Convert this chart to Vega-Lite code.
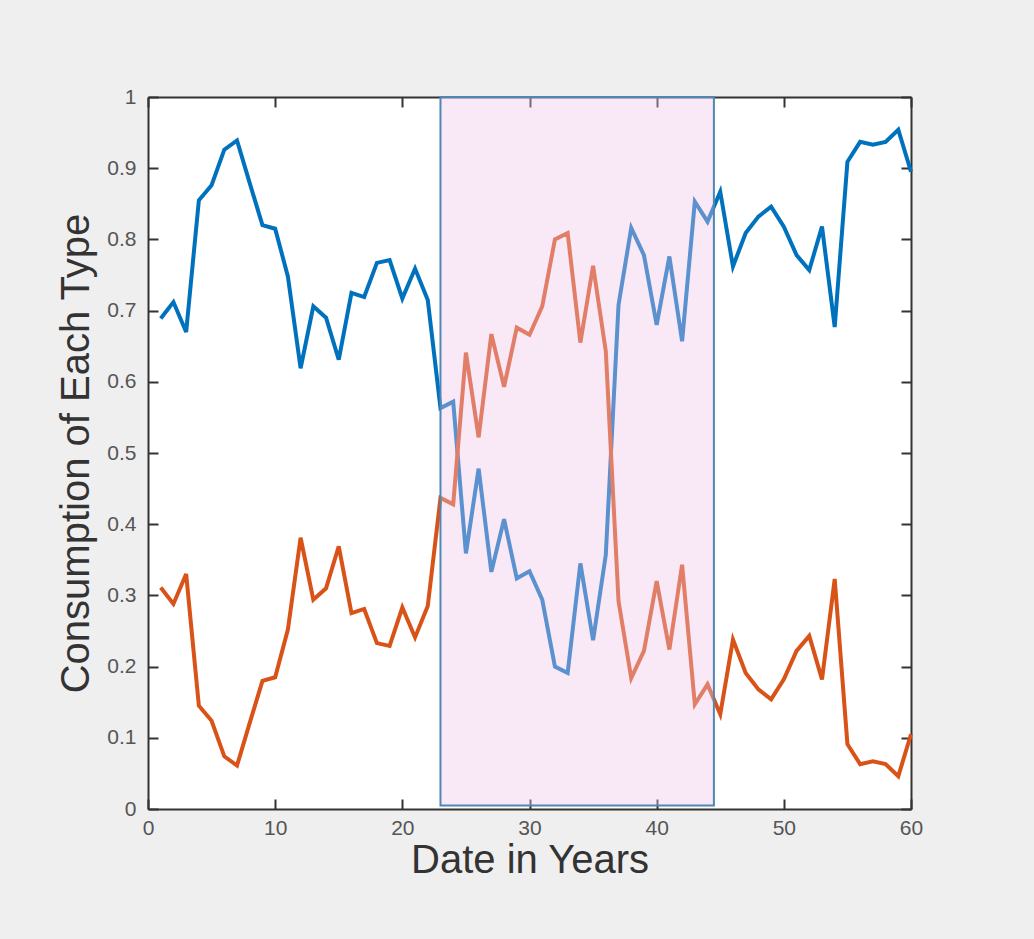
{
  "$schema": "https://vega.github.io/schema/vega-lite/v6.json",
  "width": 763,
  "height": 712,
  "autosize": "none",
  "padding": {"left": 148, "top": 97, "right": 123, "bottom": 130},
  "background": "#efefef",
  "config": {
    "view": {"fill": "white", "stroke": null},
    "font": "Liberation Sans",
    "axis": {
      "domainColor": "#333333",
      "domainWidth": 2,
      "tickColor": "#333333",
      "tickWidth": 2,
      "tickSize": -10,
      "labelFlush": false,
      "labelFont": "Liberation Sans",
      "labelFontSize": 21,
      "labelColor": "#555555",
      "titleFont": "Liberation Sans",
      "titleFontSize": 40,
      "titleFontWeight": "normal",
      "titleColor": "#333333",
      "grid": false
    }
  },
  "datasets": {
    "series": [
      {"year": 1, "type": "Type 1", "value": 0.689}, {"year": 2, "type": "Type 1", "value": 0.712}, {"year": 3, "type": "Type 1", "value": 0.670},
      {"year": 4, "type": "Type 1", "value": 0.855}, {"year": 5, "type": "Type 1", "value": 0.876}, {"year": 6, "type": "Type 1", "value": 0.926},
      {"year": 7, "type": "Type 1", "value": 0.939}, {"year": 8, "type": "Type 1", "value": 0.879}, {"year": 9, "type": "Type 1", "value": 0.820},
      {"year": 10, "type": "Type 1", "value": 0.815}, {"year": 11, "type": "Type 1", "value": 0.748}, {"year": 12, "type": "Type 1", "value": 0.619},
      {"year": 13, "type": "Type 1", "value": 0.706}, {"year": 14, "type": "Type 1", "value": 0.690}, {"year": 15, "type": "Type 1", "value": 0.631},
      {"year": 16, "type": "Type 1", "value": 0.725}, {"year": 17, "type": "Type 1", "value": 0.719}, {"year": 18, "type": "Type 1", "value": 0.767},
      {"year": 19, "type": "Type 1", "value": 0.771}, {"year": 20, "type": "Type 1", "value": 0.717}, {"year": 21, "type": "Type 1", "value": 0.759},
      {"year": 22, "type": "Type 1", "value": 0.715}, {"year": 23, "type": "Type 1", "value": 0.563}, {"year": 24, "type": "Type 1", "value": 0.572},
      {"year": 25, "type": "Type 1", "value": 0.359}, {"year": 26, "type": "Type 1", "value": 0.478}, {"year": 27, "type": "Type 1", "value": 0.333},
      {"year": 28, "type": "Type 1", "value": 0.407}, {"year": 29, "type": "Type 1", "value": 0.324}, {"year": 30, "type": "Type 1", "value": 0.334},
      {"year": 31, "type": "Type 1", "value": 0.294}, {"year": 32, "type": "Type 1", "value": 0.200}, {"year": 33, "type": "Type 1", "value": 0.191},
      {"year": 34, "type": "Type 1", "value": 0.345}, {"year": 35, "type": "Type 1", "value": 0.237}, {"year": 36, "type": "Type 1", "value": 0.357},
      {"year": 37, "type": "Type 1", "value": 0.708}, {"year": 38, "type": "Type 1", "value": 0.816}, {"year": 39, "type": "Type 1", "value": 0.778},
      {"year": 40, "type": "Type 1", "value": 0.680}, {"year": 41, "type": "Type 1", "value": 0.776}, {"year": 42, "type": "Type 1", "value": 0.657},
      {"year": 43, "type": "Type 1", "value": 0.853}, {"year": 44, "type": "Type 1", "value": 0.825}, {"year": 45, "type": "Type 1", "value": 0.867},
      {"year": 46, "type": "Type 1", "value": 0.762}, {"year": 47, "type": "Type 1", "value": 0.809}, {"year": 48, "type": "Type 1", "value": 0.832},
      {"year": 49, "type": "Type 1", "value": 0.846}, {"year": 50, "type": "Type 1", "value": 0.818}, {"year": 51, "type": "Type 1", "value": 0.778},
      {"year": 52, "type": "Type 1", "value": 0.757}, {"year": 53, "type": "Type 1", "value": 0.818}, {"year": 54, "type": "Type 1", "value": 0.677},
      {"year": 55, "type": "Type 1", "value": 0.909}, {"year": 56, "type": "Type 1", "value": 0.937}, {"year": 57, "type": "Type 1", "value": 0.933},
      {"year": 58, "type": "Type 1", "value": 0.937}, {"year": 59, "type": "Type 1", "value": 0.954}, {"year": 60, "type": "Type 1", "value": 0.895},
      {"year": 1, "type": "Type 2", "value": 0.311}, {"year": 2, "type": "Type 2", "value": 0.288}, {"year": 3, "type": "Type 2", "value": 0.330},
      {"year": 4, "type": "Type 2", "value": 0.145}, {"year": 5, "type": "Type 2", "value": 0.124}, {"year": 6, "type": "Type 2", "value": 0.074},
      {"year": 7, "type": "Type 2", "value": 0.061}, {"year": 8, "type": "Type 2", "value": 0.121}, {"year": 9, "type": "Type 2", "value": 0.180},
      {"year": 10, "type": "Type 2", "value": 0.185}, {"year": 11, "type": "Type 2", "value": 0.252}, {"year": 12, "type": "Type 2", "value": 0.381},
      {"year": 13, "type": "Type 2", "value": 0.294}, {"year": 14, "type": "Type 2", "value": 0.310}, {"year": 15, "type": "Type 2", "value": 0.369},
      {"year": 16, "type": "Type 2", "value": 0.275}, {"year": 17, "type": "Type 2", "value": 0.281}, {"year": 18, "type": "Type 2", "value": 0.233},
      {"year": 19, "type": "Type 2", "value": 0.229}, {"year": 20, "type": "Type 2", "value": 0.283}, {"year": 21, "type": "Type 2", "value": 0.241},
      {"year": 22, "type": "Type 2", "value": 0.285}, {"year": 23, "type": "Type 2", "value": 0.437}, {"year": 24, "type": "Type 2", "value": 0.428},
      {"year": 25, "type": "Type 2", "value": 0.641}, {"year": 26, "type": "Type 2", "value": 0.522}, {"year": 27, "type": "Type 2", "value": 0.667},
      {"year": 28, "type": "Type 2", "value": 0.593}, {"year": 29, "type": "Type 2", "value": 0.676}, {"year": 30, "type": "Type 2", "value": 0.666},
      {"year": 31, "type": "Type 2", "value": 0.706}, {"year": 32, "type": "Type 2", "value": 0.800}, {"year": 33, "type": "Type 2", "value": 0.809},
      {"year": 34, "type": "Type 2", "value": 0.655}, {"year": 35, "type": "Type 2", "value": 0.763}, {"year": 36, "type": "Type 2", "value": 0.643},
      {"year": 37, "type": "Type 2", "value": 0.292}, {"year": 38, "type": "Type 2", "value": 0.184}, {"year": 39, "type": "Type 2", "value": 0.222},
      {"year": 40, "type": "Type 2", "value": 0.320}, {"year": 41, "type": "Type 2", "value": 0.224}, {"year": 42, "type": "Type 2", "value": 0.343},
      {"year": 43, "type": "Type 2", "value": 0.147}, {"year": 44, "type": "Type 2", "value": 0.175}, {"year": 45, "type": "Type 2", "value": 0.133},
      {"year": 46, "type": "Type 2", "value": 0.238}, {"year": 47, "type": "Type 2", "value": 0.191}, {"year": 48, "type": "Type 2", "value": 0.168},
      {"year": 49, "type": "Type 2", "value": 0.154}, {"year": 50, "type": "Type 2", "value": 0.182}, {"year": 51, "type": "Type 2", "value": 0.222},
      {"year": 52, "type": "Type 2", "value": 0.243}, {"year": 53, "type": "Type 2", "value": 0.182}, {"year": 54, "type": "Type 2", "value": 0.323},
      {"year": 55, "type": "Type 2", "value": 0.091}, {"year": 56, "type": "Type 2", "value": 0.063}, {"year": 57, "type": "Type 2", "value": 0.067},
      {"year": 58, "type": "Type 2", "value": 0.063}, {"year": 59, "type": "Type 2", "value": 0.046}, {"year": 60, "type": "Type 2", "value": 0.105}
    ],
    "highlight": [
      {"start": 23, "end": 44.5, "low": 0.005, "high": 1}
    ]
  },
  "layer": [
    {
      "data": {"name": "series"},
      "mark": {"type": "line", "strokeWidth": 4},
      "encoding": {
        "x": {
          "field": "year", "type": "quantitative",
          "scale": {"domain": [0, 60], "nice": false, "zero": false},
          "axis": {"orient": "bottom", "values": [0, 10, 20, 30, 40, 50, 60], "title": "Date in Years", "labelPadding": 18, "titlePadding": 2}
        },
        "y": {
          "field": "value", "type": "quantitative",
          "scale": {"domain": [0, 1], "nice": false},
          "axis": {"orient": "left", "values": [0, 0.1, 0.2, 0.3, 0.4, 0.5, 0.6, 0.7, 0.8, 0.9, 1], "labelExpr": "datum.value == 0 ? '0' : datum.value == 1 ? '1' : format(datum.value, '.1f')", "title": "Consumption of Each Type", "labelPadding": 22, "titlePadding": 10}
        },
        "color": {
          "field": "type", "type": "nominal",
          "scale": {"domain": ["Type 1", "Type 2"], "range": ["#0072BD", "#D95319"]},
          "legend": null
        }
      }
    },
    {
      "data": {"name": "highlight"},
      "mark": {"type": "rect", "fill": "#eec5ea", "fillOpacity": 0.38, "stroke": "#4f86b5", "strokeWidth": 2},
      "encoding": {
        "x": {"field": "start", "type": "quantitative", "axis": {"orient": "top", "values": [0, 10, 20, 30, 40, 50, 60], "labels": false, "title": null}},
        "x2": {"field": "end"},
        "y": {"field": "low", "type": "quantitative", "axis": {"orient": "right", "values": [0, 0.1, 0.2, 0.3, 0.4, 0.5, 0.6, 0.7, 0.8, 0.9, 1], "labels": false, "title": null}},
        "y2": {"field": "high"}
      }
    }
  ],
  "resolve": {"axis": {"x": "independent", "y": "independent"}}
}
